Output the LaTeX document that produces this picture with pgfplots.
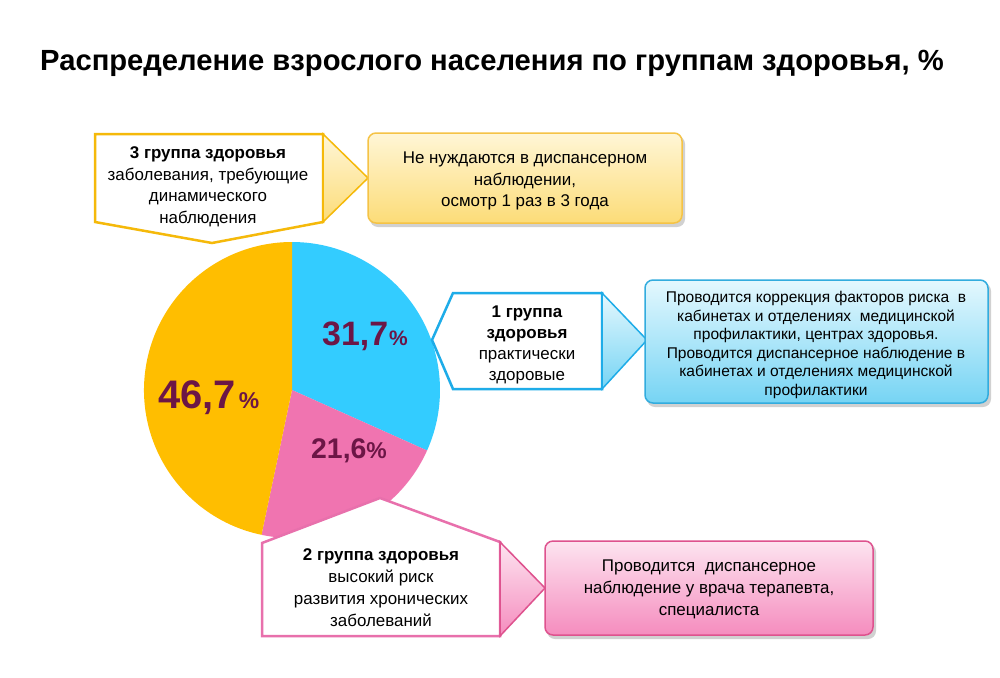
\documentclass[border=0pt]{standalone}
\usepackage{pgfplots}
\pgfplotsset{compat=1.18}
\usepackage{pgfplotstable}
\usepackage{fontspec}
\setmainfont{Liberation Sans}

\definecolor{porange}{RGB}{255,190,0}
\definecolor{pblue}{RGB}{51,204,255}
\definecolor{ppink}{RGB}{240,116,176}
\definecolor{maroon}{RGB}{108,22,70}
\definecolor{ybord}{RGB}{245,195,70}
\definecolor{ytop}{RGB}{255,246,214}
\definecolor{ybot}{RGB}{252,220,120}
\definecolor{obord}{RGB}{245,185,10}
\definecolor{bbord}{RGB}{50,172,222}
\definecolor{btop}{RGB}{228,248,254}
\definecolor{bbot}{RGB}{118,212,244}
\definecolor{cbord}{RGB}{30,172,232}
\definecolor{kbord}{RGB}{222,82,142}
\definecolor{ktop}{RGB}{253,228,240}
\definecolor{kbot}{RGB}{245,140,190}
\definecolor{qbord}{RGB}{232,112,172}

% shares of the three health groups, %
\pgfplotstableread{
group share
1 31.7
2 21.6
3 46.7
}\piedata
\pgfplotstablegetelem{0}{share}\of\piedata \let\sA\pgfplotsretval
\pgfplotstablegetelem{1}{share}\of\piedata \let\sB\pgfplotsretval
\pgfplotstablegetelem{2}{share}\of\piedata \let\sC\pgfplotsretval
\pgfmathsetmacro\aA{90-3.6*\sA}
\pgfmathsetmacro\aB{\aA-3.6*\sB}
\pgfmathsetmacro\aC{\aB-3.6*\sC}
% #1 number size, #2 percent size, #3 gap, #4 value
\newcommand\pct[4]{{\fontsize{#1}{#1}\selectfont\bfseries\pgfmathprintnumber[fixed,precision=1,use comma,assume math mode=true]{#4}}\hspace{#3}{\fontsize{#2}{#2}\selectfont\bfseries\%}}

\begin{document}
\begin{tikzpicture}
\begin{axis}[
    scale only axis,
    width=1000bp, height=677bp,
    xmin=0, xmax=1000, ymin=0, ymax=677,
    y dir=reverse,
    hide axis,
    clip=false,
]
\fill[white] (axis cs:0,0) rectangle (axis cs:1000,677);
\coordinate (bbA) at (axis cs:0,677);
\coordinate (bbB) at (axis cs:1000,0);

% title
\node[anchor=base west, font=\fontsize{29.3}{29}\selectfont\bfseries, inner sep=0pt]
  at (axis cs:40,71) {Распределение взрослого населения по группам здоровья, \%};

% pie
\fill[pblue] (axis cs:292,390) -- ++(90:148bp) arc[start angle=90, end angle=\aA, radius=148bp] -- cycle;
\fill[ppink] (axis cs:292,390) -- ++(\aA:148bp) arc[start angle=\aA, end angle=\aB, radius=148bp] -- cycle;
\fill[porange] (axis cs:292,390) -- ++(\aB:148bp) arc[start angle=\aB, end angle=\aC, radius=148bp] -- cycle;

\node[anchor=base west, inner sep=0pt, text=maroon] at (axis cs:322,345) {\pct{34}{21}{1bp}{\sA}};
\node[anchor=base west, inner sep=0pt, text=maroon] at (axis cs:311,458) {\pct{28.5}{23}{0bp}{\sB}};
\node[anchor=base west, inner sep=0pt, text=maroon] at (axis cs:158,408) {\pct{40}{23}{3bp}{\sC}};

% shadows
\fill[black, opacity=0.18, rounded corners=8bp] (axis cs:370,136) rectangle (axis cs:685,227);
\fill[black, opacity=0.18, rounded corners=8bp] (axis cs:647,283) rectangle (axis cs:991,407);
\fill[black, opacity=0.18, rounded corners=8bp] (axis cs:547,544) rectangle (axis cs:876,639);

% group 3 callout
\draw[obord, line width=2.5bp, fill=white, line join=miter]
  (axis cs:95,134) -- (axis cs:323,134) -- (axis cs:323,222) -- (axis cs:212,243) -- (axis cs:95,222) -- cycle;
\draw[obord, line width=1.5bp, top color=ytop, bottom color=ybot]
  (axis cs:323,134) -- (axis cs:368,178) -- (axis cs:323,222) -- cycle;
\node[align=center, font=\fontsize{17}{21.6}\selectfont] at (axis cs:208,187)
  {\textbf{3 группа здоровья}\\заболевания, требующие\\динамического\\наблюдения};

\draw[ybord, line width=1.5bp, rounded corners=8bp, top color=ytop, bottom color=ybot]
  (axis cs:368,133) rectangle (axis cs:682,223);
\node[align=center, font=\fontsize{17}{21.5}\selectfont] at (axis cs:525,181)
  {Не нуждаются в диспансерном\\наблюдении,\\осмотр 1 раз в 3 года};

% group 1 callout
\draw[cbord, line width=2.5bp, fill=white, line join=miter]
  (axis cs:432,340) -- (axis cs:453,293) -- (axis cs:602,293) -- (axis cs:602,389) -- (axis cs:453,389) -- cycle;
\draw[cbord, line width=1.5bp, top color=btop, bottom color=bbot]
  (axis cs:602,293) -- (axis cs:647,340) -- (axis cs:602,389) -- cycle;
\node[align=center, font=\fontsize{17}{21}\selectfont] at (axis cs:527,345)
  {\textbf{1 группа}\\\textbf{здоровья}\\практически\\здоровые};

\draw[bbord, line width=1.5bp, rounded corners=8bp, top color=btop, bottom color=bbot]
  (axis cs:645,280) rectangle (axis cs:988,403);
\node[align=center, font=\fontsize{15.6}{18.7}\selectfont] at (axis cs:816,345)
  {Проводится коррекция факторов риска\ \ в\\кабинетах и отделениях\ \ медицинской\\профилактики, центрах здоровья.\\Проводится диспансерное наблюдение в\\кабинетах и отделениях медицинской\\профилактики};

% group 2 callout
\draw[qbord, line width=2.5bp, fill=white, line join=miter]
  (axis cs:262,543) -- (axis cs:380,498) -- (axis cs:500,542) -- (axis cs:500,636) -- (axis cs:262,636) -- cycle;
\draw[kbord, line width=1.5bp, top color=ktop, bottom color=kbot]
  (axis cs:500,542) -- (axis cs:545,588) -- (axis cs:500,636) -- cycle;
\node[align=center, font=\fontsize{17}{22}\selectfont] at (axis cs:381,588)
  {\textbf{2 группа здоровья}\\высокий риск\\развития хронических\\заболеваний};

\draw[kbord, line width=1.5bp, rounded corners=8bp, top color=ktop, bottom color=kbot]
  (axis cs:545,541) rectangle (axis cs:873,635);
\node[align=center, font=\fontsize{17}{22}\selectfont] at (axis cs:709,589)
  {Проводится\ \ диспансерное\\наблюдение у врача терапевта,\\специалиста};
\end{axis}
\pgfresetboundingbox
\useasboundingbox (bbA) rectangle (bbB);
\end{tikzpicture}
\end{document}
